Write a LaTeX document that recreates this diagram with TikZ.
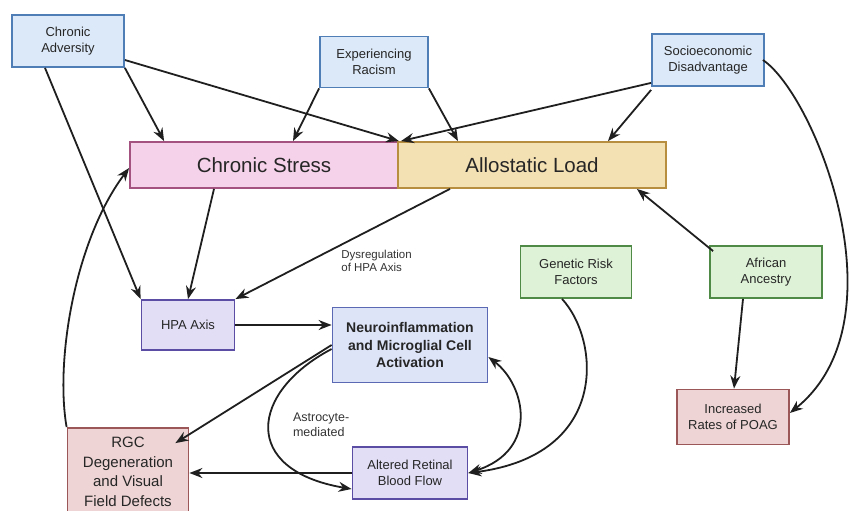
\documentclass[tikz,border=0pt]{standalone}
\usepackage{fontspec}
\setmainfont{Liberation Sans}
\usetikzlibrary{arrows.meta}
\definecolor{bluefill}{HTML}{DCE9F8}
\definecolor{blueline}{HTML}{4F7DB5}
\definecolor{stressfill}{HTML}{F6D2EA}
\definecolor{stressline}{HTML}{A4527F}
\definecolor{loadfill}{HTML}{F3E0B3}
\definecolor{loadline}{HTML}{B78D3F}
\definecolor{hpafill}{HTML}{E2DEF6}
\definecolor{hpaline}{HTML}{5B4DA3}
\definecolor{neurofill}{HTML}{DDE4F8}
\definecolor{neuroline}{HTML}{5B68B3}
\definecolor{greenfill}{HTML}{DEF2D7}
\definecolor{greenline}{HTML}{4F8B47}
\definecolor{redfill}{HTML}{EED4D4}
\definecolor{redline}{HTML}{9B5757}
\begin{document}
\begin{tikzpicture}[x=1pt,y=-1pt,
  >={Stealth[length=13pt,width=10pt]},
  box/.style={draw, line width=1.8pt, align=center, inner sep=2pt, text=black!85},
  cause/.style={box, fill=bluefill, draw=blueline, minimum width=112, minimum height=52,
    font=\fontsize{13}{15.5}\selectfont},
  big/.style={box, minimum width=268, minimum height=46, font=\fontsize{20.5}{24}\selectfont},
  mid/.style={box, minimum height=52, font=\fontsize{13}{16}\selectfont},
  lbl/.style={align=left, inner sep=1pt, text=black!80},
  arr/.style={->, line width=1.8pt, black!88}]
  \useasboundingbox (0,0) rectangle (849,511);
  \node[cause] (adv) at (68,41) {Chronic\\Adversity};
  \node[cause, minimum width=108, minimum height=51] (racism) at (374,62) {Experiencing\\Racism};
  \node[cause] (socio) at (708,60) {Socioeconomic\\Disadvantage};
  \node[big, fill=stressfill, draw=stressline] (stress) at (264,165) {Chronic Stress};
  \node[big, fill=loadfill, draw=loadline] (load) at (532,165) {Allostatic Load};
  \node[mid, fill=hpafill, draw=hpaline, minimum width=93, minimum height=50] (hpa) at (188,325) {HPA Axis};
  \node[box, fill=neurofill, draw=neuroline, minimum width=155, minimum height=75,
    font=\fontsize{14}{17.5}\selectfont\bfseries] (neuro) at (410,345)
    {Neuroinflammation\\and Microglial Cell\\Activation};
  \node[mid, fill=greenfill, draw=greenline, minimum width=111] (genetic) at (576,272) {Genetic Risk\\Factors};
  \node[mid, fill=greenfill, draw=greenline, minimum width=112] (african) at (766,272) {African\\Ancestry};
  \node[mid, fill=redfill, draw=redline, minimum width=112, minimum height=55] (poag) at (733,417) {Increased\\Rates of POAG};
  \node[box, fill=redfill, draw=redline, minimum width=121, minimum height=88,
    font=\fontsize{15}{19.5}\selectfont] (rgc) at (128,472) {RGC\\Degeneration\\and Visual\\Field Defects};
  \node[mid, fill=hpafill, draw=hpaline, minimum width=115] (blood) at (410,473) {Altered Retinal\\Blood Flow};

  \draw[arr] ([xshift=-23]adv.south) -- (hpa.north west);
  \draw[arr] (adv.south east) -- ([xshift=35]stress.north west);
  \draw[arr] ([yshift=-19]adv.east) -- (stress.north east);
  \draw[arr] (racism.south west) -- ([xshift=29]stress.north);
  \draw[arr] (racism.south east) -- ([xshift=-74]load.north);
  \draw[arr] ([yshift=4]socio.south west) -- ([xshift=2]stress.north east);
  \draw[arr] ([yshift=-3]socio.south west) -- ([xshift=76]load.north);
  \draw[arr] ([xshift=-2]socio.east) .. controls (815,95) and (905,320) .. ([yshift=4]poag.east);
  \draw[arr] ([xshift=-50]stress.south) -- (hpa.north);
  \draw[arr] ([xshift=-82]load.south) -- node[lbl, pos=0.65, anchor=west, xshift=29,
    font=\fontsize{11.5}{13}\selectfont] {Dysregulation\\of HPA Axis} (hpa.north east);
  \draw[arr] ([xshift=4,yshift=-6]african.north west) -- ([xshift=-30]load.south east);
  \draw[arr] ([xshift=-23]african.south) -- ([xshift=1]poag.north);
  \draw[arr] (hpa.east) -- (hpa.east -| neuro.west);
  \draw[arr] (neuro.west) -- ([xshift=-14,yshift=-16]rgc.north east);
  \draw[arr] ([yshift=-4]neuro.west) .. controls (250,392) and (240,470)
    .. node[lbl, pos=0.5, anchor=west, xshift=22, yshift=3,
    font=\fontsize{12.5}{15}\selectfont] {Astrocyte-\\mediated} ([yshift=-16]blood.west);
  \draw[arr, <->] ([yshift=-12]neuro.east) .. controls (525,385) and (540,450) .. (blood.east);
  \draw[arr] ([xshift=-14]genetic.south) .. controls (600,340) and (610,455) .. (blood.east);
  \draw[arr] (blood.west) -- (blood.west -| rgc.east);
  \draw[arr] (rgc.north west) .. controls (55,360) and (75,240) .. ([yshift=-3]stress.west);
\end{tikzpicture}
\end{document}
